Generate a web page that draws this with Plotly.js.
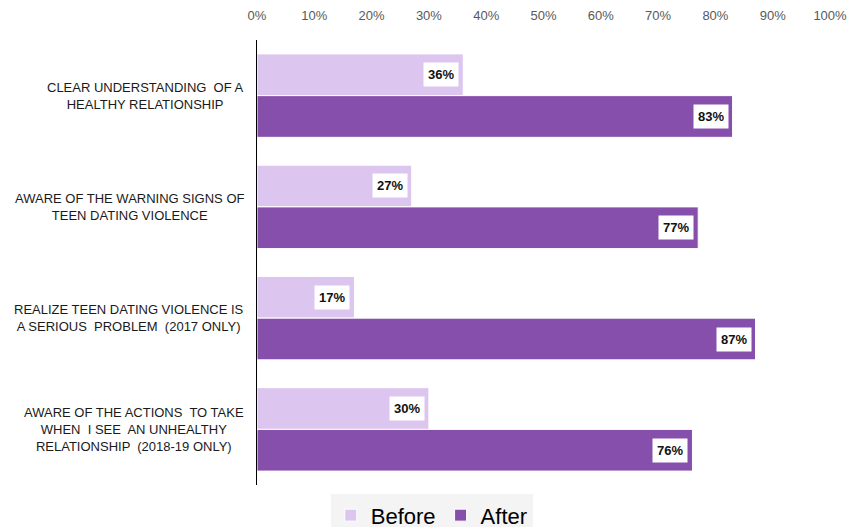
<!DOCTYPE html>
<html><head><meta charset="utf-8">
<script src="https://cdn.plot.ly/plotly-3.0.1.min.js"></script>
<style>body{margin:0;background:#fff}#chart{width:860px;height:527px}</style>
</head><body><div id="chart"></div>
<script>
const categories = [
  "CLEAR UNDERSTANDING  OF A<br>HEALTHY RELATIONSHIP",
  "AWARE OF THE WARNING SIGNS OF<br>TEEN DATING VIOLENCE",
  "REALIZE TEEN DATING VIOLENCE IS<br>A SERIOUS  PROBLEM  (2017 ONLY)",
  "AWARE OF THE ACTIONS  TO TAKE<br>WHEN  I SEE  AN UNHEALTHY<br>RELATIONSHIP  (2018-19 ONLY)"
];
const before = [36, 27, 17, 30];
const after = [83, 77, 87, 76];
const tickVals = [0,10,20,30,40,50,60,70,80,90,100];
const tickText = tickVals.map(v => v + "%");

const ids = categories.map((c,i)=>"c"+i);
const annotations = [];
ids.forEach((id,i)=>{
  annotations.push({xref:'paper', yref:'y', x:-0.02, y:id, xanchor:'right', yanchor:'middle', align:'center',
    text: categories[i], showarrow:false, font:{family:'Liberation Sans, Arial', size:13, color:'#1a1a1a'}});
  annotations.push({xref:'x', yref:'y', x:before[i], y:id, yshift:21, xshift:-4, xanchor:'right', yanchor:'middle',
    text:'<b>'+before[i]+'%</b>', showarrow:false, bgcolor:'#ffffff', borderpad:4,
    font:{family:'Liberation Sans, Arial', size:13, color:'#111'}});
  annotations.push({xref:'x', yref:'y', x:after[i], y:id, yshift:-21, xshift:-4, xanchor:'right', yanchor:'middle',
    text:'<b>'+after[i]+'%</b>', showarrow:false, bgcolor:'#ffffff', borderpad:4,
    font:{family:'Liberation Sans, Arial', size:13, color:'#111'}});
});

const data = [
  {type:'bar', orientation:'h', name:'Before', y:ids, x:before,
   marker:{color:'#dcc5ee', line:{color:'#ffffff', width:1}}, hoverinfo:'none'},
  {type:'bar', orientation:'h', name:'After', y:ids, x:after,
   marker:{color:'#874fac', line:{color:'#ffffff', width:1}}, hoverinfo:'none'}
];
const layout = {
  width:860, height:527,
  margin:{l:257, r:30, t:40, b:42, autoexpand:false},
  paper_bgcolor:'#ffffff', plot_bgcolor:'#ffffff',
  barmode:'group', bargap:0.25, bargroupgap:0,
  xaxis:{side:'top', range:[0,100], tickvals:tickVals, ticktext:tickText, showgrid:false, zeroline:false,
    showline:false, ticks:'outside', ticklen:14, tickcolor:'rgba(0,0,0,0)',
    tickfont:{family:'Liberation Sans, Arial', size:13, color:'#595959'}},
  yaxis:{autorange:'reversed', showticklabels:false, showline:true, linecolor:'#000', linewidth:1.5,
    ticks:'', showgrid:false, zeroline:false},
  showlegend:true,
  legend:{orientation:'h', xref:'paper', yref:'paper', x:0.305, xanchor:'center', y:-0.021, yanchor:'top',
    bgcolor:'#f4f4f4', font:{family:'Liberation Sans, Arial', size:22, color:'#000'}, itemwidth:30, tracegroupgap:0},
  annotations: annotations
};
Plotly.newPlot('chart', data, layout, {staticPlot:true});
</script></body></html>
